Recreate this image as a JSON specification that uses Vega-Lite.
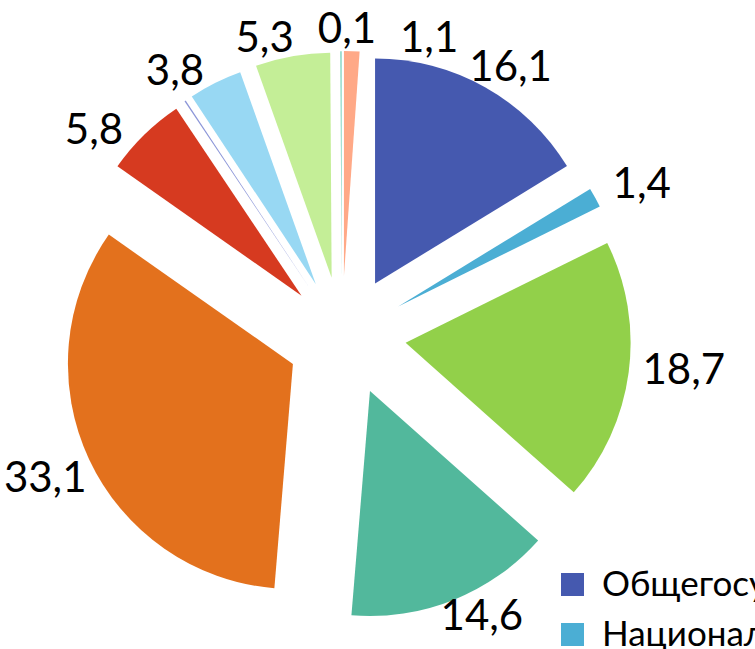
{
  "$schema": "https://vega.github.io/schema/vega-lite/v6.json",
  "width": 755,
  "height": 649,
  "autosize": {"type": "none"},
  "padding": 0,
  "background": "#ffffff",
  "config": {"view": {"stroke": null}, "font": "Lato"},
  "data": {
    "values": [
      {"name": "Общегосударственные вопросы", "value": 16.1, "label": "16,1"},
      {"name": "Национальная безопасность и правоохранительная деятельность", "value": 1.4, "label": "1,4"},
      {"name": "Национальная экономика", "value": 18.7, "label": "18,7"},
      {"name": "Жилищно-коммунальное хозяйство", "value": 14.6, "label": "14,6"},
      {"name": "Образование", "value": 33.1, "label": "33,1"},
      {"name": "Культура, кинематография", "value": 5.8, "label": "5,8"},
      {"name": "Здравоохранение", "value": 0.1, "label": ""},
      {"name": "Социальная политика", "value": 3.8, "label": "3,8"},
      {"name": "Физическая культура и спорт", "value": 5.3, "label": "5,3"},
      {"name": "Средства массовой информации", "value": 0.1, "label": "0,1"},
      {"name": "Обслуживание государственного и муниципального долга", "value": 1.1, "label": "1,1"}
    ]
  },
  "transform": [
    {"joinaggregate": [{"op": "sum", "field": "value", "as": "total"}]},
    {"window": [{"op": "sum", "field": "value", "as": "cum"}], "frame": [null, 0]},
    {"calculate": "datum.cum - datum.value", "as": "start"},
    {"calculate": "360 * (datum.cum - datum.value / 2) / datum.total", "as": "midDeg"},
    {"calculate": "sin(datum.midDeg * PI / 180)", "as": "ux"},
    {"calculate": "cos(datum.midDeg * PI / 180)", "as": "uy"}
  ],
  "layer": [
    {
      "mark": {"type": "arc", "radius": 225},
      "encoding": {
        "theta": {"field": "start", "type": "quantitative", "stack": null},
        "theta2": {"field": "cum"},
        "x": {"field": "ux", "type": "quantitative", "axis": null, "scale": {"domain": [-1, 1], "range": [286, 406], "zero": false, "nice": false}},
        "y": {"field": "uy", "type": "quantitative", "axis": null, "scale": {"domain": [-1, 1], "range": [396, 276], "zero": false, "nice": false}},
        "color": {
          "field": "name",
          "type": "nominal",
          "sort": null,
          "scale": {
            "domain": ["Общегосударственные вопросы", "Национальная безопасность и правоохранительная деятельность", "Национальная экономика", "Жилищно-коммунальное хозяйство", "Образование", "Культура, кинематография", "Здравоохранение", "Социальная политика", "Физическая культура и спорт", "Средства массовой информации", "Обслуживание государственного и муниципального долга"],
            "range": ["#4559AF", "#4BAED4", "#92D04A", "#52B89C", "#E3711D", "#D63A20", "#8C96D8", "#98D8F3", "#C4EE97", "#7FD5C1", "#FFA987"]
          },
          "legend": {
            "orient": "none",
            "legendX": 555,
            "legendY": 567,
            "title": null,
            "symbolType": "square",
            "symbolSize": 529,
            "symbolStrokeWidth": 0,
            "labelFont": "Lato",
            "labelFontSize": 35,
            "labelColor": "#000000",
            "labelLimit": 0,
            "labelOffset": 12,
            "rowPadding": 14,
            "padding": 0
          }
        }
      }
    },
    {
      "transform": [
        {"filter": "datum.label != ''"},
        {"window": [{"op": "lag", "field": "midDeg", "as": "prev1"}]},
        {"calculate": "datum.prev1 == null ? datum.midDeg : max(datum.midDeg, datum.prev1 + 14)", "as": "la1"},
        {"window": [{"op": "lag", "field": "la1", "as": "prev2"}]},
        {"calculate": "datum.prev2 == null ? datum.midDeg : max(datum.midDeg, datum.prev2 + 14)", "as": "la2"},
        {"calculate": "340 / 60 * sin(datum.la2 * PI / 180)", "as": "lx"},
        {"calculate": "306 / 60 * cos(datum.la2 * PI / 180)", "as": "ly"}
      ],
      "mark": {"type": "text", "font": "Lato", "fontSize": 42, "color": "#000000", "align": "center", "baseline": "middle"},
      "encoding": {
        "x": {"field": "lx", "type": "quantitative"},
        "y": {"field": "ly", "type": "quantitative"},
        "text": {"field": "label", "type": "nominal"}
      }
    }
  ]
}
